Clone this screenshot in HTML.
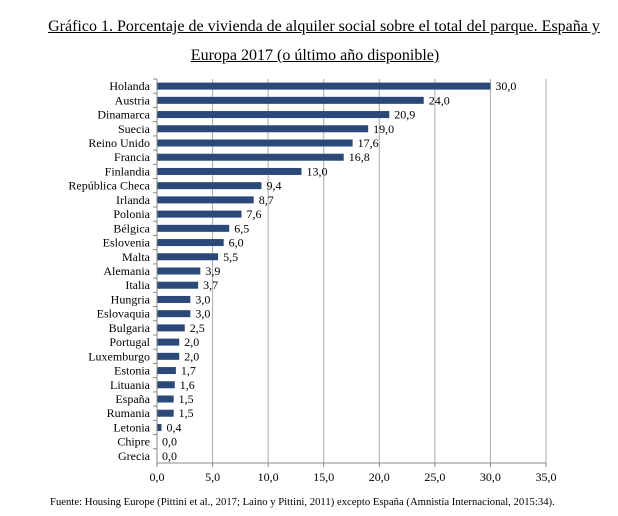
<!DOCTYPE html>
<html><head><meta charset="utf-8"><style>
body{margin:0;background:#fff;width:618px;height:516px;overflow:hidden;font-family:"Liberation Serif",serif}
.t{position:absolute;left:0;width:618px;text-align:center;font-size:16px;color:#000;white-space:nowrap}
.t span{text-decoration:underline}
</style></head><body>
<div class="t" style="top:18px;left:15px"><span>Gráfico 1. Porcentaje de vivienda de alquiler social sobre el total del parque. España y</span></div>
<div class="t" style="top:47px;left:6px"><span>Europa 2017 (o último año disponible)</span></div>
<svg id="c" width="618" height="516" style="position:absolute;left:0;top:0"></svg>
<div style="position:absolute;left:50px;top:496px;font-size:10.7px;white-space:nowrap">Fuente: Housing Europe (Pittini et al., 2017; Laino y Pittini, 2011) excepto España (Amnistía Internacional, 2015:34).</div>
<script>
const categories=["Holanda","Austria","Dinamarca","Suecia","Reino Unido","Francia","Finlandia","República Checa","Irlanda","Polonia","Bélgica","Eslovenia","Malta","Alemania","Italia","Hungria","Eslovaquia","Bulgaria","Portugal","Luxemburgo","Estonia","Lituania","España","Rumania","Letonia","Chipre","Grecia"];
const values=[30.0,24.0,20.9,19.0,17.6,16.8,13.0,9.4,8.7,7.6,6.5,6.0,5.5,3.9,3.7,3.0,3.0,2.5,2.0,2.0,1.7,1.6,1.5,1.5,0.4,0.0,0.0];
const ticks=[0,5,10,15,20,25,30,35];
const svg=document.getElementById('c');const NS='http://www.w3.org/2000/svg';
const x0=157,x1=546,yTop=79,yBot=463,max=35;
const X=v=>x0+(x1-x0)*v/max;
const band=(yBot-yTop)/categories.length;
const Y=i=>yTop+band*i;
function mk(t,a){const e=document.createElementNS(NS,t);for(const k in a)e.setAttribute(k,a[k]);svg.appendChild(e);return e;}
const fmt=v=>v.toFixed(1).replace('.',',');
ticks.forEach(t=>{
 if(t>0){const g=mk('line',{x1:X(t),x2:X(t),y1:yTop,y2:yBot,stroke:'#aaa','stroke-width':1});
 
 }
 const l=mk('text',{x:X(t),y:yBot+18,'text-anchor':'middle','font-size':12,'font-family':'Liberation Serif'});l.textContent=fmt(t);
 
 
 const tk=mk('line',{x1:X(t),x2:X(t),y1:yBot,y2:yBot+4,stroke:'#888'});
 
 
});
categories.forEach((c,i)=>{
 const yc=Y(i)+band/2;
 const tk=mk('line',{x1:x0-4,x2:x0,y1:Y(i),y2:Y(i),stroke:'#888'});
 
 
 const b=mk('rect',{x:x0,y:yc-3.5,width:X(values[i])-x0,height:7,fill:'#2a4878'});
 
 
 const l=mk('text',{x:x0-7,y:yc+4,'text-anchor':'end','font-size':12,'font-family':'Liberation Serif'});l.textContent=c;
 
 
 const v=mk('text',{x:X(values[i])+5,y:yc+4,'font-size':12,'font-family':'Liberation Serif'});v.textContent=fmt(values[i]);
 
 
});
const ya=mk('line',{x1:x0,x2:x0,y1:yTop,y2:yBot,stroke:'#888'});


const xa=mk('line',{x1:x0,x2:x1,y1:yBot,y2:yBot,stroke:'#888'});


</script>
</body></html>
